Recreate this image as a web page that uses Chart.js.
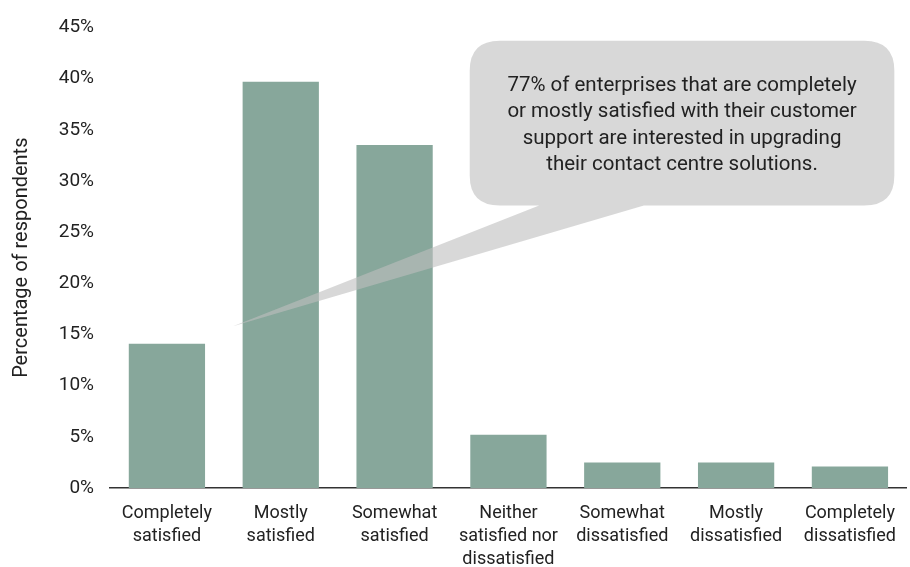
<!DOCTYPE html>
<html>
<head>
<meta charset="utf-8">
<script src="https://cdn.jsdelivr.net/npm/chart.js@4/dist/chart.umd.min.js"></script>
<style>
html,body{margin:0;padding:0;background:#fff;}
#wrap{width:910px;height:567px;position:relative;}
</style>
</head>
<body>
<div id="wrap"><canvas id="c" width="910" height="567"></canvas></div>
<script>
const categories = [
  ["Completely","satisfied"],
  ["Mostly","satisfied"],
  ["Somewhat","satisfied"],
  ["Neither","satisfied nor","dissatisfied"],
  ["Somewhat","dissatisfied"],
  ["Mostly","dissatisfied"],
  ["Completely","dissatisfied"]
];
const respondents = [14.1, 39.7, 33.5, 5.2, 2.5, 2.5, 2.1];
const yTicks = [0, 5, 10, 15, 20, 25, 30, 35, 40, 45];
const calloutLines = [
  "77% of enterprises that are completely",
  "or mostly satisfied with their customer",
  "support are interested in upgrading",
  "their contact centre solutions."
];

const FONT = "Roboto, 'DejaVu Sans', sans-serif";

const calloutPlugin = {
  id: 'callout',
  afterDatasetsDraw(chart) {
    const {ctx, scales: {x, y}} = chart;
    const left = x.getPixelForValue(2.66), right = x.getPixelForValue(6.39);
    const top = y.getPixelForValue(43.7), bottom = y.getPixelForValue(27.6);
    const tipX = x.getPixelForValue(0.58), tipY = y.getPixelForValue(15.8);
    const b1 = x.getPixelForValue(3.27), b2 = x.getPixelForValue(4.19);
    const r = 30;
    ctx.save();
    ctx.fillStyle = 'rgba(190,190,190,0.6)';
    ctx.beginPath();
    ctx.moveTo(left + r, top);
    ctx.lineTo(right - r, top);
    ctx.quadraticCurveTo(right, top, right, top + r);
    ctx.lineTo(right, bottom - r);
    ctx.quadraticCurveTo(right, bottom, right - r, bottom);
    ctx.lineTo(b2, bottom);
    ctx.lineTo(tipX, tipY);
    ctx.lineTo(b1, bottom);
    ctx.lineTo(left + r, bottom);
    ctx.quadraticCurveTo(left, bottom, left, bottom - r);
    ctx.lineTo(left, top + r);
    ctx.quadraticCurveTo(left, top, left + r, top);
    ctx.closePath();
    ctx.fill();
    ctx.fillStyle = '#222';
    ctx.font = "20.5px " + FONT;
    ctx.textAlign = 'center';
    ctx.textBaseline = 'middle';
    const cx = (left + right) / 2;
    const cy0 = top + 45;
    calloutLines.forEach((t, i) => ctx.fillText(t, cx, cy0 + i * 26.5));
    ctx.restore();
  }
};

new Chart(document.getElementById('c'), {
  type: 'bar',
  data: {
    labels: categories,
    datasets: [{
      data: respondents,
      backgroundColor: '#87a79b',
      barPercentage: 0.67,
      categoryPercentage: 1.0
    }]
  },
  options: {
    responsive: false,
    animation: false,
    layout: {padding: {left: 0, right: 0, top: 18, bottom: 0}},
    plugins: {legend: {display: false}, tooltip: {enabled: false}},
    scales: {
      x: {
        afterFit: (s) => { s.height = 79; },
        grid: {display: false, drawTicks: false},
        border: {display: true, color: '#333', width: 1.5},
        ticks: {color: '#222', font: {size: 18, family: FONT, lineHeight: 1.28}, padding: 14, maxRotation: 0, autoSkip: false}
      },
      y: {
        min: 0, max: 45,
        afterFit: (s) => { s.width = 110; },
        afterBuildTicks: (s) => { s.ticks = yTicks.map(v => ({value: v})); },
        grid: {display: false, drawTicks: false},
        border: {display: false},
        ticks: {color: '#222', font: {size: 19, family: FONT}, padding: 16, callback: v => v + '%'},
        title: {display: true, text: 'Percentage of respondents', color: '#222', font: {size: 20, family: FONT}, padding: {top: 10, bottom: 0}}
      }
    }
  },
  plugins: [calloutPlugin]
});
</script>
</body>
</html>
